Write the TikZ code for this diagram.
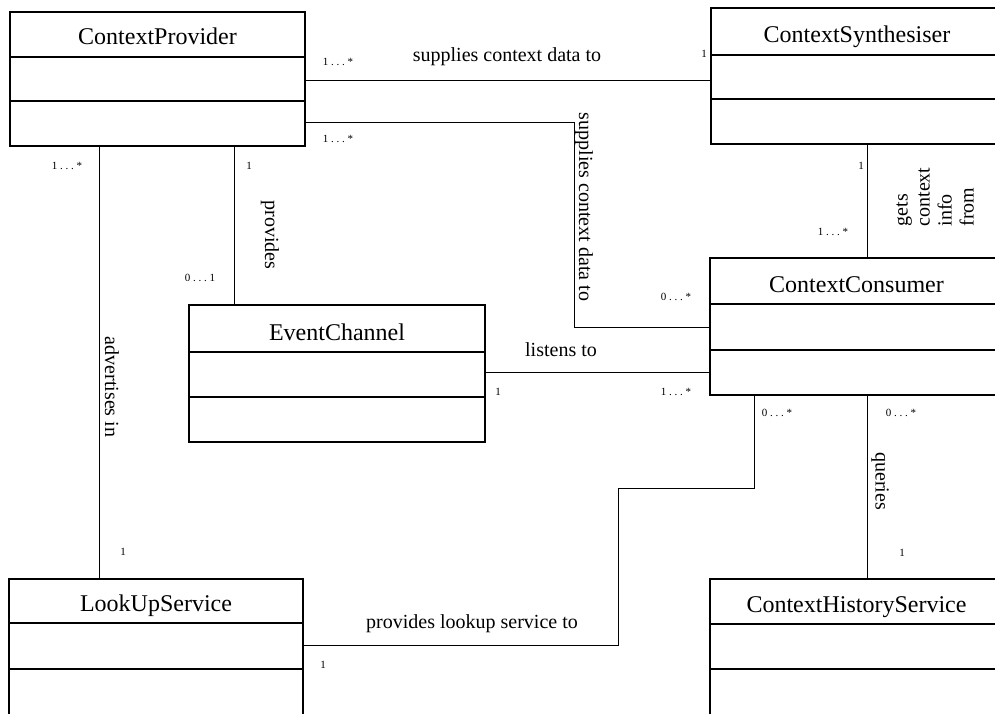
\documentclass[tikz,border=0pt]{standalone}
\usepackage{fontspec}
\setmainfont{Liberation Serif}
\newfontfamily\multfont[LetterSpace=25]{Liberation Serif}
\begin{document}
\begin{tikzpicture}[x=1pt,y=-1pt,
  boxline/.style={line width=1.2pt,black},
  classbox/.style={boxline,draw,rectangle,inner sep=0pt,fill=none},
  classtitle/.style={font=\fontsize{24}{26}\selectfont,inner sep=0pt,anchor=base},
  assoc/.style={line width=1.2pt,black},
  rolelabel/.style={font=\fontsize{20}{22}\selectfont,inner sep=0pt},
  vlabel/.style={rolelabel,rotate=-90},
  mult/.style={font=\fontsize{11}{12}\multfont,inner sep=0pt}]
\useasboundingbox (0,0) rectangle (995,714);
\clip (0,0) rectangle (995,714);

% class box: name, left, top, right, bottom, divider 1, divider 2, title
\newcommand\umlclass[8]{%
  \node[classbox,minimum width={#4-#2},minimum height={#5-#3}] (#1) at ({(#2+#4)/2},{(#3+#5)/2}) {};
  \draw[boxline] (#2,#6) -- (#4,#6) (#2,#7) -- (#4,#7);
  \node[classtitle] (#1-title) at ({(#2+#4)/2},{#6-12}) {#8};
}

\umlclass{cp}{10}{12}{305}{146}{57}{101}{ContextProvider}
\umlclass{cs}{711}{8}{1003}{144}{55}{99}{ContextSynthesiser}
\umlclass{cc}{710}{258}{1003}{395}{304}{350}{ContextConsumer}
\umlclass{ec}{189}{305}{485}{442}{352}{397}{EventChannel}
\umlclass{lus}{9}{579}{303}{760}{623}{669}{LookUpService}
\umlclass{chs}{710}{579}{1003}{760}{624}{669}{ContextHistoryService}

% ContextProvider -> ContextSynthesiser
\draw[assoc] ([yshift=-69pt]cp.north east) -- ([yshift=-73pt]cs.north west);
\node[rolelabel] (l1) at (507,57) {supplies context data to};
\node[mult] (m1a) at (338,62) {1...*};
\node[mult] (m1b) at (704,54) {1};

% ContextProvider -> ContextConsumer
\draw[assoc] ([yshift=-111pt]cp.north east) -- ++(269,0) |- ([yshift=-70pt]cc.north west);
\node[vlabel] (l2) at (584,207) {supplies context data to};
\node[mult] (m2a) at (338,139) {1...*};
\node[mult] (m2b) at (676,297) {0...*};

% ContextProvider -> LookUpService
\draw[assoc] ([xshift=90pt]cp.south west) -- ([xshift=91pt]lus.north west);
\node[vlabel] (l3) at (112,387) {advertises in};
\node[mult] (m3a) at (67,166) {1...*};
\node[mult] (m3b) at (123,552) {1};

% ContextProvider -> EventChannel
\draw[assoc] ([xshift=225pt]cp.south west) -- ([xshift=46pt]ec.north west);
\node[vlabel] (l4) at (270,235) {provides};
\node[mult] (m4a) at (249,166) {1};
\node[mult] (m4b) at (200,278) {0...1};

% EventChannel -> ContextConsumer
\draw[assoc] ([yshift=-68pt]ec.north east) -- ([yshift=-115pt]cc.north west);
\node[rolelabel] (l5) at (561,350) {listens to};
\node[mult] (m5a) at (498,392) {1};
\node[mult] (m5b) at (676,392) {1...*};

% ContextSynthesiser -> ContextConsumer
\draw[assoc] ([xshift=157pt]cs.south west) -- ([xshift=158pt]cc.north west);
\node[rolelabel,rotate=90,align=left] (l6) at (935,197) {gets\\context\\info\\from};
\node[mult] (m6a) at (861,166) {1};
\node[mult] (m6b) at (833,232) {1...*};

% ContextConsumer -> LookUpService
\draw[assoc] ([xshift=45pt]cc.south west) -- ++(0,93) -- ++(-136,0) |- ([yshift=-67pt]lus.north east);
\node[rolelabel] (l7) at (472,624) {provides lookup service to};
\node[mult] (m7a) at (777,413) {0...*};
\node[mult] (m7b) at (323,665) {1};

% ContextConsumer -> ContextHistoryService
\draw[assoc] ([xshift=158pt]cc.south west) -- ([xshift=158pt]chs.north west);
\node[vlabel] (l8) at (880,481) {queries};
\node[mult] (m8a) at (901,413) {0...*};
\node[mult] (m8b) at (902,553) {1};
\end{tikzpicture}
\end{document}
